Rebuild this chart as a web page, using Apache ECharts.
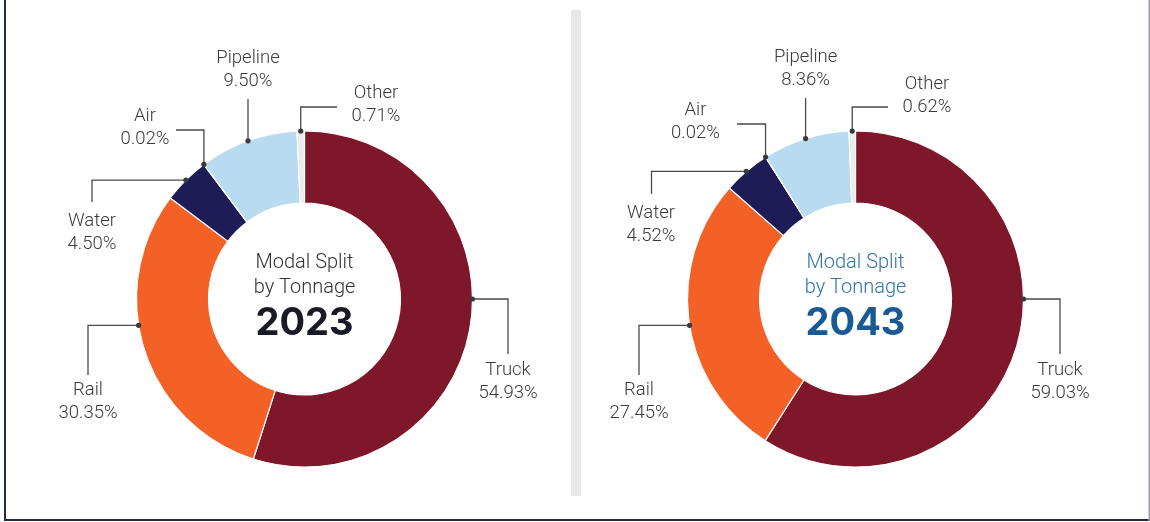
<!DOCTYPE html>
<html>
<head>
<meta charset="utf-8">
<script src="https://cdn.jsdelivr.net/npm/echarts@6/dist/echarts.min.js"></script>
<style>
  html, body { margin: 0; padding: 0; background: #ffffff; }
  #chart { width: 1150px; height: 522px; }
</style>
</head>
<body>
<div id="chart"></div>
<script>
// ---------------- DATA ----------------
const categories = ['Truck', 'Rail', 'Water', 'Air', 'Pipeline', 'Other'];
const share2023 = [54.93, 30.35, 4.50, 0.02, 9.50, 0.71];
const share2043 = [59.03, 27.45, 4.52, 0.02, 8.36, 0.62];
const years = ['2023', '2043'];
const centerTitle = ['Modal Split', 'by Tonnage'];

// ---------------- STYLE / LAYOUT ----------------
const sliceColors = ['#7e1729', '#f36127', '#1d1c57', '#4a78b5', '#b8dbf2', '#ebebeb'];
const pieCenters = [[304.5, 299], [855.5, 299]];
const innerR = 96, outerR = 168;
const titleColors = [{ sub: '#333333', year: '#1a1a26' }, { sub: '#2f74ad', year: '#195a94' }];

// leader routes per chart, offsets relative to pie centre
// angle: dot angle (deg clockwise from top), null = slice middle
const leaders = [
  [
    { angle: 90,   route: 'hv', end: [203.5, 55],    text: [203.5, 83] },
    { angle: 261,  route: 'hv', end: [-216.5, 76],   text: [-216.5, 102.5] },
    { angle: null, route: 'hv', end: [-212.5, -97],  text: [-212.5, -66.5] },
    { angle: null, route: 'vh', end: [-128.5, -169], text: [-159.5, -171.5] },
    { angle: null, route: 'v',  end: [null, -200],   text: [null, -229.5] },
    { angle: null, route: 'vh', end: [32.5, -192],   text: [71.5, -194.5] }
  ],
  [
    { angle: 90,   route: 'hv', end: [204.5, 55],    text: [204.5, 83] },
    { angle: 261,  route: 'hv', end: [-216.5, 76],   text: [-216.5, 102.5] },
    { angle: null, route: 'hv', end: [-204, -105],   text: [-204.5, -74.5] },
    { angle: null, route: 'vh', end: [-118.5, -175], text: [-160, -177.5] },
    { angle: null, route: 'v',  end: [null, -201],   text: [null, -230.5] },
    { angle: null, route: 'vh', end: [32.5, -192],   text: [71.5, -203.5] }
  ]
];

const seriesValues = [share2023, share2043];

function dotPoint(s, i) {
  const vals = seriesValues[s];
  const total = vals.reduce((a, b) => a + b, 0);
  let before = 0;
  for (let k = 0; k < i; k++) before += vals[k];
  const mid = (before + vals[i] / 2) / total * 360;
  const ang = leaders[s][i].angle != null ? leaders[s][i].angle : mid;
  const rad = ang * Math.PI / 180;
  const c = pieCenters[s];
  return [c[0] + outerR * Math.sin(rad), c[1] - outerR * Math.cos(rad)];
}

function layoutFor(s) {
  return function (params) {
    const i = params.dataIndex;
    const L = leaders[s][i];
    const c = pieCenters[s];
    const d = dotPoint(s, i);
    const ex = L.end[0] == null ? d[0] : c[0] + L.end[0];
    const ey = c[1] + L.end[1];
    let corner;
    if (L.route === 'hv') corner = [ex, d[1]];
    else if (L.route === 'vh') corner = [d[0], ey];
    else corner = [d[0], (d[1] + ey) / 2];
    const tx = L.text[0] == null ? d[0] : c[0] + L.text[0];
    const ty = c[1] + L.text[1];
    return {
      x: tx, y: ty, align: 'center', verticalAlign: 'middle',
      labelLinePoints: [d, corner, [ex, ey]]
    };
  };
}

function makeSeries(s) {
  return {
    type: 'pie',
    center: pieCenters[s],
    radius: [innerR, outerR],
    startAngle: 90,
    clockwise: true,
    avoidLabelOverlap: false,
    silent: true,
    animation: false,
    itemStyle: { borderColor: '#ffffff', borderWidth: 1.2 },
    label: {
      show: true,
      position: 'outside',
      formatter: p => p.name + '\n' + p.value.toFixed(2) + '%',
      fontFamily: 'Roboto',
      fontWeight: 300,
      fontSize: 18.5,
      lineHeight: 23,
      color: '#3a3a3a',
      align: 'center'
    },
    labelLine: { show: true, smooth: false, lineStyle: { color: '#4a4a4a', width: 1.3 } },
    labelLayout: layoutFor(s),
    data: categories.map((c, i) => ({
      name: c, value: seriesValues[s][i], itemStyle: { color: sliceColors[i] }
    }))
  };
}

// graphics: frame, divider, centre texts, leader dots
const graphics = [
  { type: 'rect', shape: { x: 4, y: 0, width: 2, height: 521 }, style: { fill: '#232b45' } },
  { type: 'rect', shape: { x: 4, y: 519, width: 1146, height: 2 }, style: { fill: '#232b45' } },
  { type: 'rect', shape: { x: 1148.5, y: 0, width: 1.5, height: 521 }, style: { fill: '#9c9cb2' } },
  { type: 'rect', shape: { x: 571, y: 10, width: 10, height: 486 }, style: { fill: '#e7e7e9' } }
];
years.forEach((yr, s) => {
  const c = pieCenters[s];
  graphics.push({
    type: 'text', x: c[0], y: c[1] - 36,
    style: { text: centerTitle[0], fill: titleColors[s].sub, font: '300 20px Roboto', textAlign: 'center', textVerticalAlign: 'middle' }
  });
  graphics.push({
    type: 'text', x: c[0], y: c[1] - 11,
    style: { text: centerTitle[1], fill: titleColors[s].sub, font: '300 20px Roboto', textAlign: 'center', textVerticalAlign: 'middle' }
  });
  graphics.push({
    type: 'text', x: c[0], y: c[1] + 25,
    style: { text: yr, fill: titleColors[s].year, font: 'bold 38px Inter', textAlign: 'center', textVerticalAlign: 'middle' }
  });
  categories.forEach((cat, i) => {
    const d = dotPoint(s, i);
    graphics.push({ type: 'circle', shape: { cx: d[0], cy: d[1], r: 2.6 }, style: { fill: '#3a3a3a' }, z: 100 });
  });
});

const chart = echarts.init(document.getElementById('chart'), null, { renderer: 'canvas' });
chart.setOption({
  backgroundColor: '#ffffff',
  animation: false,
  graphic: graphics,
  series: [makeSeries(0), makeSeries(1)]
});
</script>
</body>
</html>
